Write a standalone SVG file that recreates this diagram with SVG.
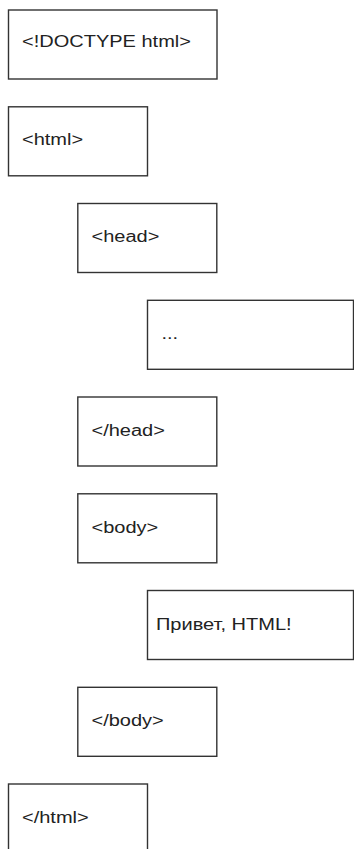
<svg xmlns="http://www.w3.org/2000/svg" width="354" height="849" viewBox="0 0 354 849">
<style>
.box{fill:#fff;stroke:#333;stroke-width:1.4}
.t{font-family:"Liberation Sans",Arial,sans-serif;font-size:16px;fill:#222}
</style>
<rect width="354" height="849" fill="#fff"/>
<g id="connectors"></g>
<g id="doctype"><rect class="box" x="8.5" y="10" width="208.5" height="69"/><text class="t" transform="translate(22,46.7) scale(1.25,1)">&lt;!DOCTYPE html&gt;</text></g>
<g id="html-open"><rect class="box" x="8.5" y="106.8" width="139" height="69"/><text class="t" transform="translate(22,145) scale(1.25,1)">&lt;html&gt;</text></g>
<g id="head-open"><rect class="box" x="77.8" y="203.5" width="139" height="69"/><text class="t" transform="translate(91.5,242) scale(1.25,1)">&lt;head&gt;</text></g>
<g id="head-content"><rect class="box" x="147.5" y="300.3" width="206" height="69"/><text class="t" transform="translate(161.5,338.5) scale(1.25,1)">...</text></g>
<g id="head-close"><rect class="box" x="77.8" y="397" width="139" height="69"/><text class="t" transform="translate(91.5,435.5) scale(1.25,1)">&lt;/head&gt;</text></g>
<g id="body-open"><rect class="box" x="77.8" y="493.8" width="139" height="69"/><text class="t" transform="translate(91.5,532.5) scale(1.25,1)">&lt;body&gt;</text></g>
<g id="body-content"><rect class="box" x="147.5" y="590.5" width="206" height="69"/><text class="t" transform="translate(156,630) scale(1.25,1)">Привет, HTML!</text></g>
<g id="body-close"><rect class="box" x="77.8" y="687.3" width="139" height="69"/><text class="t" transform="translate(91.5,726) scale(1.25,1)">&lt;/body&gt;</text></g>
<g id="html-close"><rect class="box" x="8.5" y="784" width="139" height="69"/><text class="t" transform="translate(22,822.5) scale(1.25,1)">&lt;/html&gt;</text></g>
</svg>
